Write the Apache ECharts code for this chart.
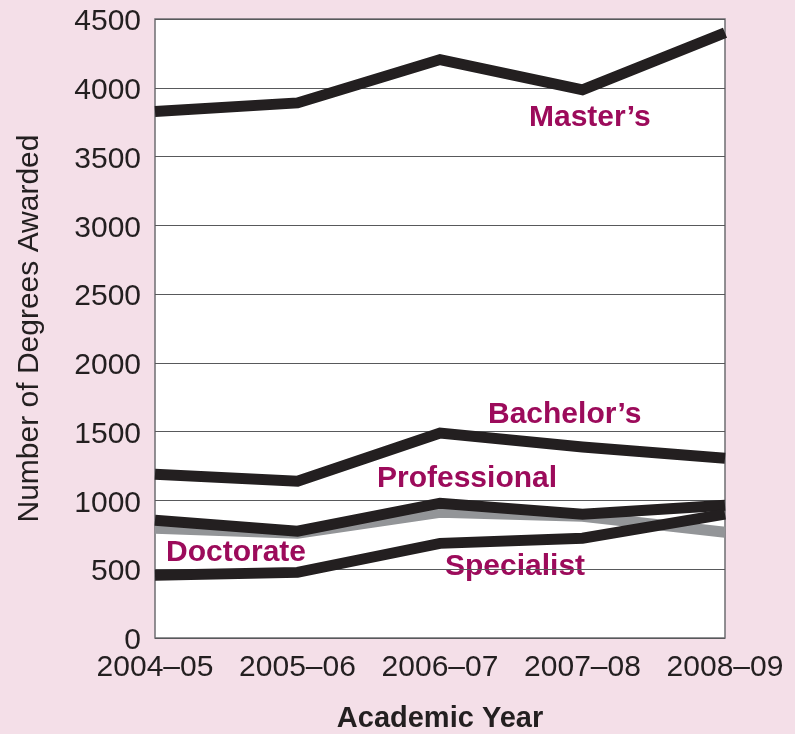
<!DOCTYPE html>
<html>
<head>
<meta charset="utf-8">
<script src="https://cdn.jsdelivr.net/npm/echarts@6/dist/echarts.min.js"></script>
<style>
html, body { margin: 0; padding: 0; background: #f4dfe8; }
#chart { width: 795px; height: 734px; }
</style>
</head>
<body>
<div id="chart"></div>
<script>
var years = ['2004–05', '2005–06', '2006–07', '2007–08', '2008–09'];
var masters = [3827, 3890, 4205, 3985, 4400];
var bachelors = [1190, 1140, 1490, 1388, 1307];
var professional = [856, 776, 980, 900, 965];
var doctorate = [798, 761, 914, 885, 769];
var specialist = [456, 477, 688, 725, 900];

var fontFam = '"Liberation Sans", Arial, Helvetica, sans-serif';
var black = '#231f20';
var maroon = '#9c0b5b';

var chart = echarts.init(document.getElementById('chart'));

function lineSerie(name, data, color, z) {
    return {
        name: name,
        type: 'line',
        data: data,
        symbol: 'none',
        z: z,
        lineStyle: { color: color, width: 11, join: 'miter' }
    };
}

// series name tags inside the plot
function tag(text, x, y) {
    return {
        type: 'text',
        left: x,
        top: y,
        style: {
            text: text,
            fill: maroon,
            font: 'bold 30px ' + fontFam
        }
    };
}

chart.setOption({
    backgroundColor: '#f4dfe8',
    animation: false,
    grid: {
        left: 155,
        right: 70,
        top: 19,
        bottom: 96,
        containLabel: false,
        outerBoundsMode: 'none',
        show: true,
        backgroundColor: '#ffffff',
        borderColor: '#6d6e71',
        borderWidth: 1.5
    },
    xAxis: {
        type: 'category',
        data: years,
        boundaryGap: false,
        axisLine: { show: false },
        axisTick: { show: false },
        axisLabel: {
            color: black,
            fontFamily: fontFam,
            fontSize: 30,
            margin: 15,
            interval: 0,
            hideOverlap: false
        },
        name: 'Academic Year',
        nameLocation: 'middle',
        nameGap: 66,
        nameTextStyle: {
            color: black,
            fontFamily: fontFam,
            fontSize: 29,
            fontWeight: 'bold'
        }
    },
    yAxis: {
        type: 'value',
        min: 0,
        max: 4500,
        interval: 500,
        axisLine: { show: false },
        axisTick: { show: false },
        splitLine: { lineStyle: { color: '#58595b', width: 1.2 } },
        axisLabel: {
            color: black,
            fontFamily: fontFam,
            fontSize: 30,
            margin: 14,
            verticalAlign: 'top',
            padding: [-12, 0, 0, 0],
            formatter: function(v) { return String(v); }
        },
        name: 'Number of Degrees Awarded',
        nameLocation: 'middle',
        nameGap: 110,
        nameTextStyle: {
            color: black,
            fontFamily: fontFam,
            fontSize: 30
        }
    },
    series: [
        lineSerie('Doctorate', doctorate, '#939598', 2),
        lineSerie('Professional', professional, black, 3),
        lineSerie('Specialist', specialist, black, 4),
        lineSerie("Bachelor's", bachelors, black, 3),
        lineSerie("Master's", masters, black, 3)
    ],
    graphic: [
        tag('Master’s', 529, 103),
        tag('Bachelor’s', 488, 400),
        tag('Professional', 377, 464),
        tag('Doctorate', 166, 538),
        tag('Specialist', 445, 552)
    ]
});
</script>
</body>
</html>
